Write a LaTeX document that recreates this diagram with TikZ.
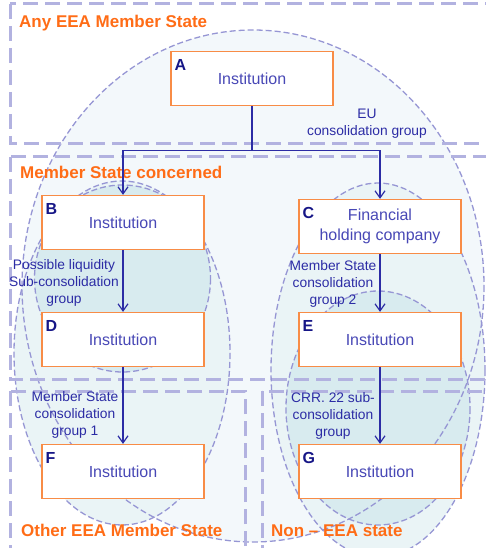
\documentclass[tikz,border=0pt]{standalone}
\usepackage{fontspec}
\setmainfont{Liberation Sans}
\usetikzlibrary{calc,shapes,arrows.meta}
\definecolor{regorange}{RGB}{255,108,22}
\definecolor{boxorange}{RGB}{248,140,70}
\definecolor{textblue}{RGB}{72,72,182}
\definecolor{navy}{RGB}{22,22,135}
\definecolor{linkblue}{RGB}{44,44,165}
\definecolor{zoneline}{RGB}{178,178,224}
\definecolor{ringline}{RGB}{150,150,212}
\definecolor{eufill}{RGB}{243,248,251}
\definecolor{msfill}{RGB}{234,244,246}
\definecolor{subfill}{RGB}{216,235,239}

\begin{document}
\begin{tikzpicture}[x=1pt,y=-1pt,
  box/.style={draw=boxorange,fill=white,line width=1.3pt,minimum width=162pt,
    minimum height=54pt,text=textblue,align=center,font=\fontsize{16}{20}\selectfont},
  letter/.style={anchor=north west,inner sep=0pt,text=navy,font=\fontsize{16}{19}\selectfont\bfseries},
  note/.style={text=linkblue,align=center,inner sep=0pt,font=\fontsize{13.8}{17}\selectfont},
  region/.style={anchor=west,inner sep=0pt,text=regorange,font=\fontsize{17}{20}\selectfont\bfseries},
  zone/.style={draw=zoneline,line width=3pt,dash pattern=on 15pt off 7pt},
  ring/.style={draw=ringline,line width=1.3pt,dash pattern=on 6pt off 3pt},
  link/.style={draw=linkblue,line width=1.2pt},
  ->/.style={link,-{Straight Barb[length=7pt,width=10pt]}}]
\useasboundingbox (0,0) rectangle (486,548);
\clip (0,0) rectangle (486,548);
\coordinate (O) at (0,0);
% group areas
\fill[eufill] ($(O)+(253,286)$) ellipse [x radius=231, y radius=256];
\fill[msfill] ($(O)+(122,353)$) ellipse [x radius=108, y radius=172];
\fill[msfill] ($(O)+(378,370)$) ellipse [x radius=107, y radius=187];
\fill[subfill] ($(O)+(122.5,278.5)$) ellipse [x radius=88, y radius=93.5];
\fill[subfill] ($(O)+(378,408)$) ellipse [x radius=92, y radius=117];
\path[ring] ($(O)+(253,286)$) ellipse [x radius=231, y radius=256];
\path[ring] ($(O)+(122,353)$) ellipse [x radius=108, y radius=172];
\path[ring] ($(O)+(378,370)$) ellipse [x radius=107, y radius=187];
\path[ring] ($(O)+(122.5,278.5)$) ellipse [x radius=88, y radius=93.5];
\path[ring] ($(O)+(378,408)$) ellipse [x radius=92, y radius=117];
% states
\path[zone] ($(O)+(10,4)$) rectangle ($(O)+(500,144)$);
\path[zone] ($(O)+(10,157)$) rectangle ($(O)+(500,379)$);
\path[zone] ($(O)+(10,391)$) rectangle ($(O)+(245,560)$);
\path[zone] ($(O)+(262,391)$) rectangle ($(O)+(500,560)$);
\node[region] (R1) at ($(O)+(19,23)$) {Any EEA Member State};
\node[region] (R2) at ($(O)+(20,172)$) {Member State concerned};
\node[region] (R3) at ($(O)+(21,530)$) {Other EEA Member State};
\node[region] (R4) at ($(O)+(271,531)$) {Non -- EEA state};
% entities
\node[box] (A) at ($(O)+(252,78.5)$) {Institution};
\node[box] (B) at ($(O)+(123,222.5)$) {Institution};
\node[box] (C) at ($(O)+(380,226.5)$) {Financial\\holding company};
\node[box] (D) at ($(O)+(123,339.5)$) {Institution};
\node[box] (E) at ($(O)+(380,339.5)$) {Institution};
\node[box] (F) at ($(O)+(123,471.5)$) {Institution};
\node[box] (G) at ($(O)+(380,471.5)$) {Institution};
\node[letter] (A1) at ($(A.north west)+(4,8)$) {A};
\node[letter] (B1) at ($(B.north west)+(4,8)$) {B};
\node[letter] (C1) at ($(C.north west)+(4,8)$) {C};
\node[letter] (D1) at ($(D.north west)+(4,8)$) {D};
\node[letter] (E1) at ($(E.north west)+(4,8)$) {E};
\node[letter] (F1) at ($(F.north west)+(4,8)$) {F};
\node[letter] (G1) at ($(G.north west)+(4,8)$) {G};
\coordinate (J) at ($(A.south)+(0,44)$);
\path[link] (A) edge (J);
\draw[->] (J) -| (B);
\draw[->] (J) -| (C);
\path[->] (B) edge (D) (D) edge (F);
\path[->] (C) edge (E) (E) edge (G);
% group names
\node[note] (N1) at ($(O)+(367,124)$) {EU\\consolidation group};
\node[note] (N2) at ($(O)+(64,283)$) {Possible liquidity\\Sub-consolidation\\group};
\node[note] (N3) at ($(O)+(333,284)$) {Member State\\consolidation\\group 2};
\node[note] (N4) at ($(O)+(75,415)$) {Member State\\consolidation\\group 1};
\node[note] (N5) at ($(O)+(333,416)$) {CRR. 22 sub-\\consolidation\\group};
\end{tikzpicture}
\end{document}
